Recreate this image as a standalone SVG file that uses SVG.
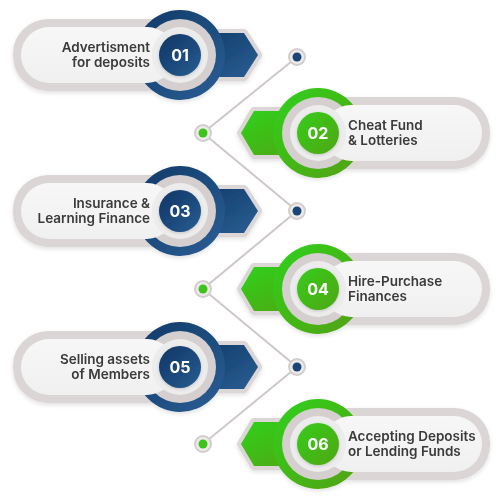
<svg xmlns="http://www.w3.org/2000/svg" width="500" height="500" viewBox="0 0 500 500">
<defs>
  <linearGradient id="bR" x1="0" y1="0" x2="1" y2="1"><stop offset="0" stop-color="#0f3a68"/><stop offset="1" stop-color="#2b5e94"/></linearGradient>
  <linearGradient id="bN" x1="0" y1="0" x2="1" y2="1"><stop offset="0" stop-color="#0d3564"/><stop offset="1" stop-color="#2a5c91"/></linearGradient>
  <linearGradient id="gR" x1="0" y1="0" x2="1" y2="1"><stop offset="0" stop-color="#2fd11c"/><stop offset="1" stop-color="#55a012"/></linearGradient>
  <linearGradient id="gN" x1="0" y1="0" x2="1" y2="1"><stop offset="0" stop-color="#36cc1c"/><stop offset="1" stop-color="#4fa714"/></linearGradient>
  <linearGradient id="inner" x1="0" y1="0" x2="0" y2="1"><stop offset="0" stop-color="#f7f7f7"/><stop offset="1" stop-color="#f0f0f0"/></linearGradient>
  <filter id="sh" x="-10%" y="-10%" width="120%" height="130%"><feDropShadow dx="0" dy="2" stdDeviation="2" flood-color="#000" flood-opacity="0.12"/></filter>
  <filter id="ns" x="-30%" y="-30%" width="160%" height="160%"><feDropShadow dx="0" dy="1" stdDeviation="1.5" flood-color="#000" flood-opacity="0.18"/></filter>
  <style>
    .pill{fill:#dbd5d5}
    .in{fill:url(#inner)}
    .gring{fill:#d5cfcf}
    .lring{fill:#ececec}
    .arr{stroke:#dcd6d6;stroke-width:8;stroke-linejoin:round;paint-order:stroke}
    .lbl{font-family:Inter,"Open Sans",sans-serif;font-weight:600;font-size:13.5px;fill:#3a3a3a}
    .num{font-family:Inter,"Open Sans",sans-serif;font-weight:700;font-size:16px;fill:#fff;text-anchor:middle}
    .ln{stroke:#cfc8c8;stroke-width:2;fill:none}
    .dot{fill:#eeeaea;stroke:#d3cdcd;stroke-width:2}
  </style>
</defs>
<rect width="500" height="500" fill="#fff"/>
<g id="connectors">
  <polyline class="ln" points="297,57 203,133 297,211 203,289 297,367 203,444"/>
  <circle class="dot" cx="297" cy="57" r="8"/><circle cx="297" cy="57" r="4.5" fill="#1a4677"/>
  <circle class="dot" cx="203" cy="133" r="8"/><circle cx="203" cy="133" r="4.5" fill="#3cc41b"/>
  <circle class="dot" cx="297" cy="211" r="8"/><circle cx="297" cy="211" r="4.5" fill="#1a4677"/>
  <circle class="dot" cx="203" cy="289" r="8"/><circle cx="203" cy="289" r="4.5" fill="#3cc41b"/>
  <circle class="dot" cx="297" cy="367" r="8"/><circle cx="297" cy="367" r="4.5" fill="#1a4677"/>
  <circle class="dot" cx="203" cy="444" r="8"/><circle cx="203" cy="444" r="4.5" fill="#3cc41b"/>
</g>
<g id="node-01" filter="url(#sh)">
  <path class="arr" fill="url(#bR)" d="M190,33 H244 L258,55 L244,77 H190 Z"/>
  <rect class="pill" x="13" y="19" width="180" height="72" rx="35"/>
  <circle cx="180" cy="55" r="45" fill="url(#bR)"/>
  <circle class="gring" cx="180" cy="55" r="36"/>
  <rect class="in" x="21" y="27" width="154" height="56" rx="28"/>
  <circle class="lring" cx="180" cy="55" r="28"/>
  <circle cx="180" cy="55" r="21" fill="url(#bN)" filter="url(#ns)"/>
  <text class="num" x="180" y="61">01</text>
  <text class="lbl" text-anchor="end" x="150" y="52">Advertisment</text>
  <text class="lbl" text-anchor="end" x="150" y="67">for deposits</text>
</g>
<g id="node-02" filter="url(#sh)">
  <path class="arr" fill="url(#gR)" d="M328,111 H254 L241,133 L254,155 H328 Z"/>
  <rect class="pill" x="305" y="97" width="185" height="72" rx="35"/>
  <circle cx="318" cy="133" r="45" fill="url(#gR)"/>
  <circle class="gring" cx="318" cy="133" r="36"/>
  <rect class="in" x="323" y="105" width="159" height="56" rx="28"/>
  <circle class="lring" cx="318" cy="133" r="28"/>
  <circle cx="318" cy="133" r="21" fill="url(#gN)" filter="url(#ns)"/>
  <text class="num" x="318" y="139">02</text>
  <text class="lbl" x="348" y="130">Cheat Fund</text>
  <text class="lbl" x="348" y="145">&amp; Lotteries</text>
</g>
<g id="node-03" filter="url(#sh)">
  <path class="arr" fill="url(#bR)" d="M190,189 H244 L258,211 L244,233 H190 Z"/>
  <rect class="pill" x="13" y="175" width="180" height="72" rx="35"/>
  <circle cx="180" cy="211" r="45" fill="url(#bR)"/>
  <circle class="gring" cx="180" cy="211" r="36"/>
  <rect class="in" x="21" y="183" width="154" height="56" rx="28"/>
  <circle class="lring" cx="180" cy="211" r="28"/>
  <circle cx="180" cy="211" r="21" fill="url(#bN)" filter="url(#ns)"/>
  <text class="num" x="180" y="217">03</text>
  <text class="lbl" text-anchor="end" x="150" y="208">Insurance &amp;</text>
  <text class="lbl" text-anchor="end" x="150" y="223">Learning Finance</text>
</g>
<g id="node-04" filter="url(#sh)">
  <path class="arr" fill="url(#gR)" d="M328,267 H254 L241,289 L254,311 H328 Z"/>
  <rect class="pill" x="305" y="253" width="185" height="72" rx="35"/>
  <circle cx="318" cy="289" r="45" fill="url(#gR)"/>
  <circle class="gring" cx="318" cy="289" r="36"/>
  <rect class="in" x="323" y="261" width="159" height="56" rx="28"/>
  <circle class="lring" cx="318" cy="289" r="28"/>
  <circle cx="318" cy="289" r="21" fill="url(#gN)" filter="url(#ns)"/>
  <text class="num" x="318" y="295">04</text>
  <text class="lbl" x="348" y="286">Hire-Purchase</text>
  <text class="lbl" x="348" y="301">Finances</text>
</g>
<g id="node-05" filter="url(#sh)">
  <path class="arr" fill="url(#bR)" d="M190,345 H244 L258,367 L244,389 H190 Z"/>
  <rect class="pill" x="13" y="331" width="180" height="72" rx="35"/>
  <circle cx="180" cy="367" r="45" fill="url(#bR)"/>
  <circle class="gring" cx="180" cy="367" r="36"/>
  <rect class="in" x="21" y="339" width="154" height="56" rx="28"/>
  <circle class="lring" cx="180" cy="367" r="28"/>
  <circle cx="180" cy="367" r="21" fill="url(#bN)" filter="url(#ns)"/>
  <text class="num" x="180" y="373">05</text>
  <text class="lbl" text-anchor="end" x="150" y="364">Selling assets</text>
  <text class="lbl" text-anchor="end" x="150" y="379">of Members</text>
</g>
<g id="node-06" filter="url(#sh)">
  <path class="arr" fill="url(#gR)" d="M328,422 H254 L241,444 L254,466 H328 Z"/>
  <rect class="pill" x="305" y="408" width="185" height="72" rx="35"/>
  <circle cx="318" cy="444" r="45" fill="url(#gR)"/>
  <circle class="gring" cx="318" cy="444" r="36"/>
  <rect class="in" x="323" y="416" width="159" height="56" rx="28"/>
  <circle class="lring" cx="318" cy="444" r="28"/>
  <circle cx="318" cy="444" r="21" fill="url(#gN)" filter="url(#ns)"/>
  <text class="num" x="318" y="450">06</text>
  <text class="lbl" x="348" y="441">Accepting Deposits</text>
  <text class="lbl" x="348" y="456">or Lending Funds</text>
</g>
</svg>
